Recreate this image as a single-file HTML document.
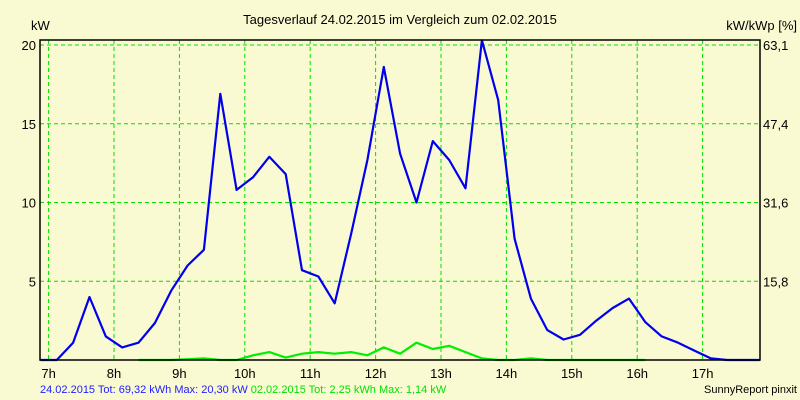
<!DOCTYPE html>
<html><head><meta charset="utf-8"><style>
body{margin:0;background:#fafad2;}
svg{display:block;font-family:"Liberation Sans",sans-serif;}
</style></head><body>
<svg id="chart" width="800" height="400">
<rect width="800" height="400" fill="#fafad2"/>
<text x="400" y="24" font-size="13" text-anchor="middle">Tagesverlauf 24.02.2015 im Vergleich zum 02.02.2015</text>
<text x="31" y="30" font-size="13">kW</text>
<text x="797" y="30" font-size="13" text-anchor="end">kW/kWp [%]</text>
<g id="grid"></g><g id="series"></g><g id="axes"></g>
<text x="40" y="393" font-size="11"><tspan fill="#2020ff">24.02.2015 Tot: 69,32 kWh Max: 20,30 kW</tspan> <tspan fill="#00e000">02.02.2015 Tot: 2,25 kWh Max: 1,14 kW</tspan></text>
<text x="797" y="393" font-size="11" text-anchor="end">SunnyReport pinxit</text>
</svg>
<script>
const hourTicks=[7,8,9,10,11,12,13,14,15,16,17];
const leftTicks=[5,10,15,20];
const rightTickLabels=["15,8","31,6","47,4","63,1"];
const startTime=6.875, stepHours=0.25;
const blueValues=[0,0,1.1,4.0,1.5,0.8,1.1,2.35,4.4,6.0,7.0,16.9,10.8,11.6,12.9,11.8,5.7,5.3,3.6,8.0,12.7,18.6,13.1,10.0,13.9,12.7,10.9,20.3,16.5,7.7,3.9,1.9,1.3,1.6,2.5,3.3,3.9,2.4,1.5,1.1,0.6,0.1,0,0,0];
const greenValues=[null,null,null,null,null,null,0,0,0,0.05,0.1,0,0,0.3,0.5,0.15,0.4,0.5,0.4,0.5,0.3,0.8,0.4,1.1,0.7,0.9,0.5,0.1,0,0,0.1,0,0,0,0,0,0,0,null,null,null,null,null,null,null];
const L=40,R=760,T=40,B=360;
const x=t=>48.6+(t-7)*65.4;
const y=v=>B-v*15.75;
const NS="http://www.w3.org/2000/svg";
function mk(tag,attrs,parent){const e=document.createElementNS(NS,tag);for(const k in attrs)e.setAttribute(k,attrs[k]);parent.appendChild(e);return e;}
const grid=document.getElementById('grid'),axes=document.getElementById('axes'),series=document.getElementById('series');
hourTicks.forEach(h=>{
  const l=mk('line',{x1:x(h),x2:x(h),y1:T,y2:B,stroke:'#00e000','stroke-dasharray':'4,3'},grid);
  
  
  const t=mk('text',{x:x(h),y:378,'font-size':13,'text-anchor':'middle'},axes);t.textContent=h+'h';
  
  
});
leftTicks.forEach((v,i)=>{
  const l=mk('line',{x1:L,x2:R,y1:y(v),y2:y(v),stroke:'#00e000','stroke-dasharray':'4,3'},grid);
  
  
  const t=mk('text',{x:36,y:y(v)+5,'font-size':13,'text-anchor':'end'},axes);t.textContent=v;
  
  
  const r=mk('text',{x:763,y:y(v)+5,'font-size':13},axes);r.textContent=rightTickLabels[i];
  
  
});
function path(vals,color,name){
  let d='',pen=false;
  vals.forEach((v,i)=>{if(v===null){pen=false;return;}const px=x(startTime+i*stepHours),py=y(v);d+=(pen?'L':'M')+px.toFixed(1)+','+py.toFixed(1);pen=true;});
  const p=mk('path',{d:d,fill:'none',stroke:color,'stroke-width':2.2,'stroke-linejoin':'round'},series);
  
  
}
path(greenValues,'#00ee00','series-02-02-2015');
path(blueValues,'#0000ee','series-24-02-2015');
const f=mk('rect',{x:L,y:T,width:R-L,height:B-T,fill:'none',stroke:'#000','stroke-width':1.5},axes);


</script>
</body></html>
